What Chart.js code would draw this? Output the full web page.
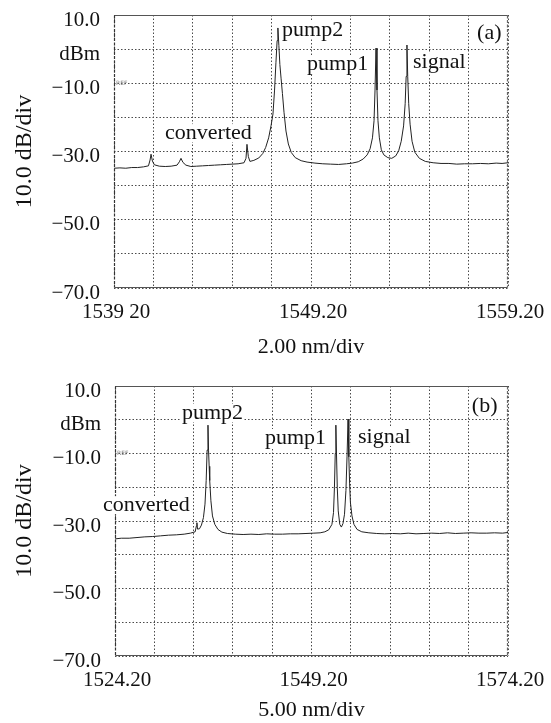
<!DOCTYPE html>
<html>
<head>
<meta charset="utf-8">
<script src="https://cdn.jsdelivr.net/npm/chart.js@4/dist/chart.umd.min.js"></script>
<style>
  html, body { margin: 0; padding: 0; background: #fff; }
  #wrapA { position: absolute; left: 0; top: 0; width: 551px; height: 362px; }
  #wrapB { position: absolute; left: 0; top: 362px; width: 551px; height: 361px; }
</style>
</head>
<body>
<div id="wrapA"><canvas id="chartA" width="551" height="362"></canvas></div>
<div id="wrapB"><canvas id="chartB" width="551" height="361"></canvas></div>
<script>
// ---------- data ----------
// Panel (a): wavelength (nm) and power (dBm)
const aWavelength = [1539.20,1539.50,1539.80,1540.10,1540.40,1540.70,1540.95,1541.03,1541.08,1541.15,1541.25,1541.50,1541.80,1542.10,1542.40,1542.52,1542.60,1542.70,1542.85,1543.10,1543.40,1543.70,1544.00,1544.30,1544.60,1544.90,1545.20,1545.50,1545.80,1545.90,1545.95,1546.02,1546.10,1546.30,1546.55,1546.75,1546.90,1547.05,1547.17,1547.27,1547.35,1547.42,1547.48,1547.52,1547.57,1547.62,1547.68,1547.75,1547.83,1547.93,1548.05,1548.20,1548.40,1548.70,1549.00,1549.40,1549.80,1550.20,1550.60,1551.00,1551.30,1551.60,1551.85,1552.05,1552.20,1552.32,1552.40,1552.45,1552.50,1552.55,1552.60,1552.67,1552.77,1552.90,1553.10,1553.30,1553.50,1553.65,1553.78,1553.90,1553.98,1554.03,1554.07,1554.11,1554.16,1554.23,1554.33,1554.47,1554.70,1555.00,1555.40,1555.80,1556.20,1556.60,1557.00,1557.40,1557.80,1558.20,1558.60,1558.90,1559.20];
const aPower = [-34.9,-34.8,-34.9,-34.7,-34.7,-34.5,-34.2,-32.5,-30.8,-32.8,-33.9,-34.3,-34.4,-34.3,-34.0,-33.0,-32.0,-33.2,-34.0,-34.4,-34.3,-34.2,-34.1,-34.0,-33.9,-33.8,-33.7,-33.6,-33.3,-32.0,-27.9,-31.5,-32.9,-32.6,-31.9,-30.6,-28.8,-26.0,-22.5,-19.0,-12.0,-4.0,2.5,6.2,1.0,-4.5,-8.5,-13.0,-18.5,-24.0,-27.8,-30.3,-31.8,-32.7,-33.1,-33.4,-33.6,-33.7,-33.8,-33.6,-33.4,-33.0,-32.2,-31.0,-29.2,-26.0,-21.0,-12.0,0.3,-12.0,-21.0,-26.0,-29.5,-31.0,-31.8,-32.0,-31.3,-29.8,-27.0,-22.5,-16.0,-8.0,1.2,-8.0,-16.0,-22.0,-27.0,-30.2,-32.0,-32.9,-33.3,-33.5,-33.5,-33.7,-33.6,-33.6,-33.5,-33.6,-33.4,-33.5,-33.3];

// Panel (b)
const bWavelength = [1524.2,1525.0,1526.0,1527.0,1528.0,1529.0,1530.0,1531.0,1532.0,1533.0,1533.8,1534.4,1534.55,1534.62,1534.7,1534.95,1535.2,1535.45,1535.65,1535.8,1535.92,1536.03,1536.1,1536.18,1536.25,1536.4,1536.6,1536.9,1537.3,1537.8,1538.5,1539.5,1540.5,1541.5,1542.5,1543.5,1544.5,1545.5,1546.5,1547.5,1548.5,1549.5,1550.3,1550.9,1551.4,1551.8,1552.0,1552.12,1552.22,1552.3,1552.38,1552.48,1552.6,1552.8,1553.0,1553.2,1553.4,1553.58,1553.72,1553.85,1553.95,1554.05,1554.15,1554.35,1554.6,1555.0,1555.6,1556.5,1557.5,1558.5,1559.5,1560.5,1561.5,1562.5,1563.5,1564.5,1565.5,1566.5,1567.5,1568.5,1569.5,1570.5,1571.5,1572.5,1573.5,1574.2];
const bPower = [-35.3,-35.1,-35.1,-34.9,-34.7,-34.6,-34.4,-34.2,-34.1,-33.9,-33.6,-33.2,-31.5,-30.5,-32.4,-32.3,-31.2,-29.0,-25.0,-18.0,-9.0,-1.6,-9.0,-13.8,-18.0,-24.0,-28.5,-31.0,-32.5,-33.3,-33.7,-33.9,-34.0,-33.9,-34.0,-33.8,-33.9,-33.9,-33.8,-33.8,-33.7,-33.6,-33.5,-33.2,-32.6,-31.0,-27.5,-20.0,-10.0,-1.6,-10.0,-20.0,-27.0,-31.0,-31.8,-30.8,-28.0,-21.0,-11.0,0.2,-11.0,-19.0,-24.5,-28.5,-31.0,-32.5,-33.2,-33.5,-33.7,-33.8,-33.7,-33.8,-33.6,-33.8,-33.7,-33.6,-33.7,-33.5,-33.7,-33.6,-33.5,-33.6,-33.6,-33.5,-33.6,-33.4];

// Axis tick labels
const yTickValues = [10, 0, -10, -20, -30, -40, -50, -60, -70];
const yTickLabels = ['10.0', 'dBm', '\u221210.0', '', '\u221230.0', '', '\u221250.0', '', '\u221270.0'];
const aXTickValues = [1539.2, 1549.2, 1559.2];
const aXTickLabels = ['1539 20', '1549.20', '1559.20'];
const bXTickValues = [1524.2, 1549.2, 1574.2];
const bXTickLabels = ['1524.20', '1549.20', '1574.20'];

// Peak annotations (text, wavelength, dBm)
const aLabelText = ['pump2', 'pump1', 'signal', 'converted', '(a)'];
const aLabelX = [1547.73, 1549.0, 1554.38, 1541.79, 1557.63];
const aLabelY = [5.6, -4.4, -3.8, -24.6, 4.7];
const bLabelText = ['pump2', 'pump1', 'signal', 'converted', '(b)'];
const bLabelX = [1532.72, 1543.28, 1555.12, 1522.67, 1569.6];
const bLabelY = [2.0, -5.4, -5.1, -25.3, 4.1];

// ---------- rendering ----------
const SERIF = '"Liberation Serif", "DejaVu Serif", serif';

const annotPlugin = {
  id: 'annot',
  beforeDatasetsDraw(chart, args, opts) {
    const { ctx, chartArea: a, scales } = chart;
    const x = scales.x, y = scales.y;
    ctx.save();
    const L = Math.round(a.left) + 0.5, R = Math.round(a.right) - 0.5;
    const T = Math.round(a.top) + 0.5, B = Math.round(a.bottom) - 0.5;
    ctx.lineWidth = 1.2;
    ctx.strokeStyle = '#555';
    ctx.setLineDash([]);
    ctx.beginPath(); ctx.moveTo(L, T); ctx.lineTo(R, T); ctx.stroke();
    ctx.beginPath(); ctx.moveTo(L, B); ctx.lineTo(R, B); ctx.stroke();
    ctx.setLineDash([3, 1.5]);
    ctx.strokeStyle = '#333';
    ctx.beginPath(); ctx.moveTo(L, T); ctx.lineTo(L, B); ctx.stroke();
    ctx.strokeStyle = '#666';
    ctx.beginPath(); ctx.moveTo(R, T); ctx.lineTo(R, B); ctx.stroke();
    ctx.setLineDash([]);
    // REF marker
    ctx.font = '6px "DejaVu Sans", sans-serif';
    ctx.fillStyle = '#777';
    ctx.textBaseline = 'middle';
    ctx.textAlign = 'left';
    ctx.fillText('REF', a.left + 2, y.getPixelForValue(-10));
    // annotations
    ctx.font = '22px ' + SERIF;
    const texts = opts.texts || [], xs = opts.xs || [], ys = opts.ys || [];
    for (let i = 0; i < texts.length; i++) {
      const px = x.getPixelForValue(xs[i]);
      const py = y.getPixelForValue(ys[i]);
      const w = ctx.measureText(texts[i]).width;
      ctx.fillStyle = '#fff';
      ctx.fillRect(px - 1, py - 9, w + 2, 18);
      ctx.fillStyle = '#111';
      ctx.fillText(texts[i], px, py);
    }
    ctx.restore();
  }
};

function makeChart(id, xs, ys, xmin, xmax, xstep, xTickVals, xTickLabs, xTitle,
                   padTop, padBottom, xAxisHeight, yAxisWidth, texts, lx, ly) {
  const pts = xs.map((v, i) => ({ x: v, y: ys[i] }));
  const gridColor = '#4a4a4a';
  return new Chart(document.getElementById(id), {
    type: 'line',
    data: { datasets: [{ data: pts, borderColor: '#222', borderWidth: 1, pointRadius: 0, tension: 0, fill: false }] },
    plugins: [annotPlugin],
    options: {
      responsive: false,
      animation: false,
      devicePixelRatio: 1,
      layout: { padding: { top: padTop, bottom: padBottom, left: 0, right: 43 } },
      plugins: {
        legend: { display: false },
        tooltip: { enabled: false },
        annot: { texts: texts, xs: lx, ys: ly }
      },
      scales: {
        x: {
          type: 'linear', min: xmin, max: xmax,
          afterBuildTicks(scale) {
            const t = [];
            for (let k = 0; k <= 10; k++) t.push({ value: xmin + k * xstep });
            scale.ticks = t;
          },
          afterFit(scale) {
            scale.height = xAxisHeight;
            scale.paddingLeft = 0; scale.paddingRight = 0;
          },
          ticks: {
            autoSkip: false, maxRotation: 0, minRotation: 0, padding: 12, labelOffset: 2,
            color: '#111', font: { family: SERIF, size: 21 },
            callback(v) {
              for (let i = 0; i < xTickVals.length; i++) if (Math.abs(v - xTickVals[i]) < 1e-6) return xTickLabs[i];
              return '';
            }
          },
          grid: { color: gridColor, lineWidth: 1, drawTicks: false, tickLength: 0 },
          border: { display: false, dash: [1.5, 2] },
          title: { display: true, text: xTitle, color: '#111', font: { family: SERIF, size: 22, lineHeight: 1 }, padding: { top: 0, bottom: 0 } }
        },
        y: {
          min: -70, max: 10,
          afterBuildTicks(scale) { scale.ticks = yTickValues.map(v => ({ value: v })); },
          afterFit(scale) {
            scale.width = yAxisWidth;
            scale.paddingTop = 0; scale.paddingBottom = 0;
          },
          ticks: {
            padding: 14, labelOffset: 5, color: '#111', font: { family: SERIF, size: 21 },
            callback(v) {
              const i = yTickValues.indexOf(Math.round(v));
              return i >= 0 ? yTickLabels[i] : '';
            }
          },
          grid: { color: gridColor, lineWidth: 1, drawTicks: false, tickLength: 0 },
          border: { display: false, dash: [1.5, 2] },
          title: { display: true, text: '10.0 dB/div', color: '#111', font: { family: SERIF, size: 24, lineHeight: 1 }, padding: { top: 13, bottom: 0 } }
        }
      }
    }
  });
}

makeChart('chartA', aWavelength, aPower, 1539.2, 1559.2, 2, aXTickValues, aXTickLabels, '2.00 nm/div',
          15, 4, 70, 114, aLabelText, aLabelX, aLabelY);
makeChart('chartB', bWavelength, bPower, 1524.2, 1574.2, 5, bXTickValues, bXTickLabels, '5.00 nm/div',
          24, 2, 65, 115, bLabelText, bLabelX, bLabelY);
</script>
</body>
</html>
